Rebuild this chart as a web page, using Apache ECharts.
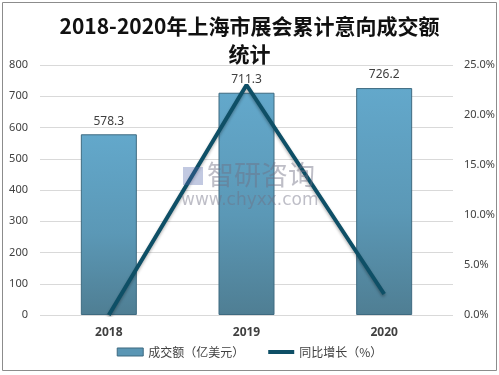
<!DOCTYPE html>
<html><head><meta charset="utf-8">
<script src="https://cdn.jsdelivr.net/npm/echarts@6/dist/echarts.min.js"></script>
<style>html,body{margin:0;padding:0;background:#fff}#c{width:499px;height:375px}</style>
</head><body><div id="c"></div>
<script>
const categories = ['2018', '2019', '2020'];
const amountValues = [578.3, 711.3, 726.2];
const growthValues = [0, 23.0, 2.1];
const leftTicks = [0, 800, 100];
const rightTicks = [0, 25, 5];

const chart = echarts.init(document.getElementById('c'));
const barColor = new echarts.graphic.LinearGradient(0, 0, 0, 1, [
  {offset: 0, color: '#63a8cb'},
  {offset: 0.55, color: '#5b98b6'},
  {offset: 1, color: '#4f7e93'}
]);
chart.setOption({
  animation: false,
  backgroundColor: '#fff',
  title: {
    text: '2018-2020年上海市展会累计意向成交额\n统计',
    left: 'center', top: 7,
    textStyle: {fontFamily: 'Noto Sans CJK SC', fontSize: 21, fontWeight: 'bold', color: '#111', lineHeight: 28}
  },
  graphic: [
    {type: 'rect', shape: {x: 2.5, y: 2.5, width: 494, height: 368}, style: {fill: 'none', stroke: '#8c8c8c', lineWidth: 1}, z: 100},
    {type: 'text', left: 207, top: 161, style: {text: '智研咨询', font: '27px "Noto Sans CJK SC"', fill: 'rgba(110,110,130,0.45)'}, z: 50},
    {type: 'rect', shape: {x: 183, y: 167, width: 20, height: 18}, style: {fill: 'rgba(80,100,170,0.35)'}, z: 50},
    {type: 'text', left: 181, top: 192, style: {text: 'www.chyxx.com', font: '17px "DejaVu Sans"', fill: 'rgba(110,110,130,0.45)'}, z: 50}
  ],
  legend: {
    bottom: 12, itemGap: 24, left: 'center',
    textStyle: {fontFamily: 'Noto Sans CJK SC', fontSize: 12, color: '#404040'},
    itemWidth: 26, itemHeight: 8,
    data: [
      {name: '成交额（亿美元）', icon: 'rect', itemStyle: {color: '#5a96b4', borderColor: '#3e6a80', borderWidth: 1}},
      {name: '同比增长（%）', icon: 'path://M0,0 L26,0 L26,4 L0,4 Z', itemStyle: {color: '#0e4f66'}}
    ]
  },
  grid: {left: 40, right: 46, top: 65, bottom: 60},
  xAxis: {
    type: 'category', data: categories,
    axisLine: {show: false}, axisTick: {show: false},
    axisLabel: {fontFamily: 'Noto Sans', fontSize: 12, fontWeight: 'bold', color: '#404040', margin: 12}
  },
  yAxis: [
    {type: 'value', min: leftTicks[0], max: leftTicks[1], interval: leftTicks[2],
     axisLine: {show: false}, axisTick: {show: false},
     axisLabel: {fontFamily: 'Noto Sans', fontSize: 11, color: '#404040', margin: 12},
     splitLine: {lineStyle: {color: '#d9d9d9', width: 1}}},
    {type: 'value', min: rightTicks[0], max: rightTicks[1], interval: rightTicks[2],
     axisLine: {show: false}, axisTick: {show: false},
     axisLabel: {fontFamily: 'Noto Sans', fontSize: 11, color: '#404040', margin: 11, formatter: v => v.toFixed(1) + '%'},
     splitLine: {show: false}}
  ],
  series: [
    {name: '成交额（亿美元）', type: 'bar', data: amountValues, barWidth: 56,
     itemStyle: {color: barColor, borderColor: '#3e6a80', borderWidth: 1},
     label: {show: true, position: 'top', distance: 7, fontFamily: 'Noto Sans', fontSize: 12, color: '#404040', formatter: p => p.value.toFixed(1)}},
    {name: '同比增长（%）', type: 'line', yAxisIndex: 1, data: growthValues,
     symbol: 'none', z: 5,
     lineStyle: {color: '#0e4f66', width: 4, shadowColor: 'rgba(0,0,0,0.3)', shadowBlur: 3, shadowOffsetY: 2},
     itemStyle: {color: '#0e4f66'}}
  ]
});
</script></body></html>
